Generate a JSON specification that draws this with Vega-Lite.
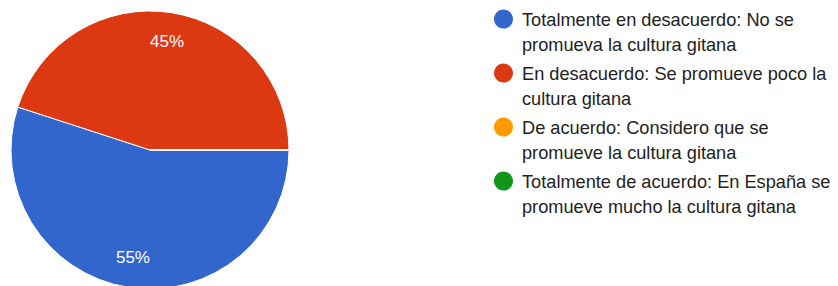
{
  "$schema": "https://vega.github.io/schema/vega-lite/v6.json",
  "width": 300,
  "height": 300,
  "padding": 0,
  "background": "white",
  "data": {
    "values": [
      {"respuesta": "Totalmente en desacuerdo: No se promueva la cultura gitana", "proporcion": 0.55, "orden": 1},
      {"respuesta": "En desacuerdo: Se promueve poco la cultura gitana", "proporcion": 0.45, "orden": 2},
      {"respuesta": "De acuerdo: Considero que se promueve la cultura gitana", "proporcion": 0, "orden": 3},
      {"respuesta": "Totalmente de acuerdo: En España se promueve mucho la cultura gitana", "proporcion": 0, "orden": 4}
    ]
  },
  "encoding": {
    "theta": {"field": "proporcion", "type": "quantitative", "stack": true, "scale": {"range": [1.5707963, 7.8539816]}},
    "order": {"field": "orden", "type": "quantitative"},
    "color": {
      "field": "respuesta",
      "type": "nominal",
      "sort": {"field": "orden"},
      "scale": {
        "domain": [
          "Totalmente en desacuerdo: No se promueva la cultura gitana",
          "En desacuerdo: Se promueve poco la cultura gitana",
          "De acuerdo: Considero que se promueve la cultura gitana",
          "Totalmente de acuerdo: En España se promueve mucho la cultura gitana"
        ],
        "range": ["#3366CC", "#DC3912", "#FF9900", "#109618"]
      },
      "legend": {
        "title": null,
        "orient": "none",
        "legendX": 494,
        "legendY": 2,
        "symbolType": "M-1,0.8A1,1,0,1,1,1,0.8A1,1,0,1,1,-1,0.8Z",
        "symbolSize": 361,
        "symbolStrokeWidth": 0,
        "labelFont": "Liberation Sans",
        "labelFontSize": 18.2,
        "labelColor": "#222222",
        "labelOffset": 9,
        "labelLimit": 400,
        "rowPadding": 2,
        "labelBaseline": "top",
        "labelExpr": "datum.label == 'Totalmente en desacuerdo: No se promueva la cultura gitana' ? ['Totalmente en desacuerdo: No se', 'promueva la cultura gitana'] : datum.label == 'En desacuerdo: Se promueve poco la cultura gitana' ? ['En desacuerdo: Se promueve poco la', 'cultura gitana'] : datum.label == 'De acuerdo: Considero que se promueve la cultura gitana' ? ['De acuerdo: Considero que se', 'promueve la cultura gitana'] : ['Totalmente de acuerdo: En España se', 'promueve mucho la cultura gitana']"
      }
    }
  },
  "layer": [
    {
      "mark": {"type": "arc", "outerRadius": 139, "stroke": "white", "strokeWidth": 1}
    },
    {
      "transform": [{"filter": "datum.proporcion > 0"}],
      "mark": {"type": "text", "radius": 109, "font": "Liberation Sans", "fontSize": 17, "align": "center", "baseline": "middle"},
      "encoding": {
        "text": {"field": "proporcion", "type": "quantitative", "format": ".0%"},
        "color": {"value": "white"}
      }
    }
  ],
  "config": {"view": {"stroke": null}, "style": {"guide-label": {"lineHeight": 25}}}
}
